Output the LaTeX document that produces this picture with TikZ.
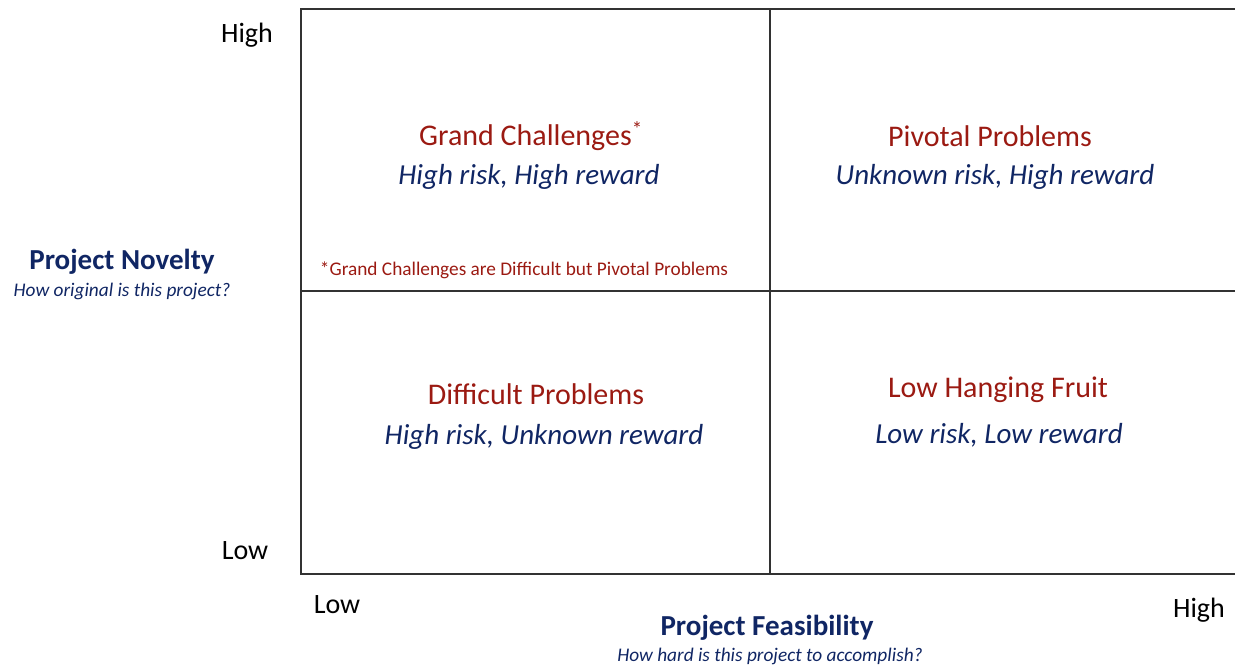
\documentclass[tikz,border=0pt]{standalone}
\usepackage{fontspec}
\setmainfont{Carlito}
\definecolor{quadred}{RGB}{155,26,18}
\definecolor{axisblue}{RGB}{16,38,100}
\definecolor{gridgray}{RGB}{50,50,50}
\begin{document}
\begin{tikzpicture}[x=1pt,y=-1pt,
  gridline/.style={draw=gridgray,line width=1.6pt},
  quadtitle/.style={text=quadred,font=\fontsize{30}{34}\selectfont,inner sep=0pt},
  quadsub/.style={text=axisblue,font=\fontsize{29}{34}\selectfont\itshape,inner sep=0pt},
  axistitle/.style={text=axisblue,font=\fontsize{29}{34}\selectfont\bfseries,inner sep=0pt},
  axissub/.style={text=axisblue,font=\fontsize{19.3}{23}\selectfont\itshape,inner sep=0pt},
  ticklabel/.style={text=black,font=\fontsize{28}{32}\selectfont,inner sep=0pt}]
\useasboundingbox (0,0) rectangle (1235,669);
% grid corners
\coordinate (tl) at (301,9);
\coordinate (tr) at (1235,9);
\coordinate (bl) at (301,574);
\coordinate (br) at (1235,574);
\coordinate (ml) at (301,291);
\coordinate (mr) at (1235,291);
\coordinate (mt) at (770,9);
\coordinate (mb) at (770,574);
% frame and dividers
\draw[gridline] (tr) -- (tl) -- (bl) -- (br);
\draw[gridline] (ml) -- (mr);
\draw[gridline] (mt) -- (mb);
% axis tick labels
\node[ticklabel] (yhigh) at (247,35) {High};
\node[ticklabel] (ylow) at (245,551) {Low};
\node[ticklabel] (xlow) at (337,605) {Low};
\node[ticklabel] (xhigh) at (1199,610) {High};
% axis titles
\node[axistitle] (ytitle) at (122,262) {Project Novelty};
\node[axissub] (ysub) at (122,291) {How original is this project?};
\node[axistitle] (xtitle) at (767,628) {Project Feasibility};
\node[axissub] (xsub) at (770,656) {How hard is this project to accomplish?};
% quadrants
\node[quadtitle] (q1t) at (531,136) {Grand Challenges\textsuperscript{*}};
\node[quadsub] (q1s) at (529,177) {High risk, High reward};
\node[text=quadred,font=\fontsize{19.3}{23}\selectfont,inner sep=0pt] (note) at (524,270) {*Grand Challenges are Difficult but Pivotal Problems};
\node[quadtitle] (q2t) at (990,136) {Pivotal Problems};
\node[quadsub] (q2s) at (995,177) {Unknown risk, High reward};
\node[quadtitle] (q3t) at (536,394) {Difficult Problems};
\node[quadsub] (q3s) at (544,437) {High risk, Unknown reward};
\node[quadtitle] (q4t) at (998,390) {Low Hanging Fruit};
\node[quadsub] (q4s) at (999,435) {Low risk, Low reward};
\end{tikzpicture}
\end{document}
